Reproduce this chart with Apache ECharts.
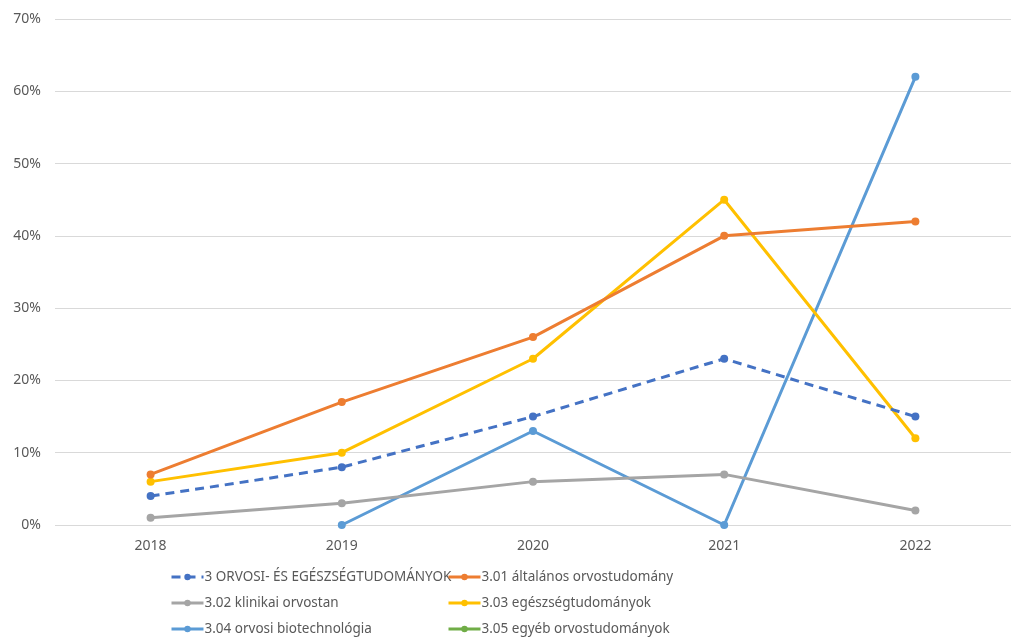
<!DOCTYPE html>
<html><head><meta charset="utf-8">
<script src="https://cdn.jsdelivr.net/npm/echarts@6/dist/echarts.min.js"></script>
<style>html,body{margin:0;padding:0;background:#fff}#c{width:1019px;height:639px}</style>
</head><body><div id="c"></div>
<script>
const categories = ['2018','2019','2020','2021','2022'];
const sOrvosi = [4, 8, 15, 23, 15];
const sAltalanos = [7, 17, 26, 40, 42];
const sKlinikai = [1, 3, 6, 7, 2];
const sEgeszseg = [6, 10, 23, 45, 12];
const sBiotech = [null, 0, 13, 0, 62];
const sEgyeb = [null, null, null, null, null];
const names = ['3 ORVOSI- ÉS EGÉSZSÉGTUDOMÁNYOK','3.01 általános orvostudomány','3.02 klinikai orvostan','3.03 egészségtudományok','3.04 orvosi biotechnológia','3.05 egyéb orvostudományok'];
const colors = ['#4472C4','#ED7D31','#A5A5A5','#FFC000','#5B9BD5','#70AD47'];
const datas = [sOrvosi,sAltalanos,sKlinikai,sEgeszseg,sBiotech,sEgyeb];
const font = '"Noto Sans", sans-serif';
const chart = echarts.init(document.getElementById('c'));
const series = names.map((n,i)=>({
  name:n, type:'line', data:datas[i], symbol:'circle', symbolSize:8,
  itemStyle:{color:colors[i]},
  lineStyle:{color:colors[i], width:3, type: i===0?[9,6]:'solid', cap:'butt'},
  connectNulls:false, z: 10 - i
}));
const legendPos = [[170,570],[447,570],[170,596],[447,596],[170,622],[447,622]];
const legends = names.map((n,i)=>({
  left:legendPos[i][0], top:legendPos[i][1], data:[n], orient:'horizontal',
  itemWidth:32, itemHeight:8, padding:0,
  lineStyle:{width:3},
  textStyle:{color:'#595959', fontSize:13.5, fontFamily:font, padding:[0,0,0,-4]}
}));
chart.setOption({
  animation:false,
  color:colors,
  grid:{left:55, right:8, top:19, bottom:114},
  xAxis:{type:'category', data:categories, boundaryGap:true,
    axisLine:{show:false}, axisTick:{show:false},
    axisLabel:{color:'#595959', fontSize:14, fontFamily:font, margin:14}},
  yAxis:{type:'value', min:0, max:70, interval:10,
    axisLabel:{formatter:'{value}%', color:'#595959', fontSize:14, fontFamily:font, margin:14},
    splitLine:{lineStyle:{color:'#D9D9D9', width:1}}, axisLine:{show:false}, axisTick:{show:false}},
  legend:legends,
  series:series
});
</script></body></html>
